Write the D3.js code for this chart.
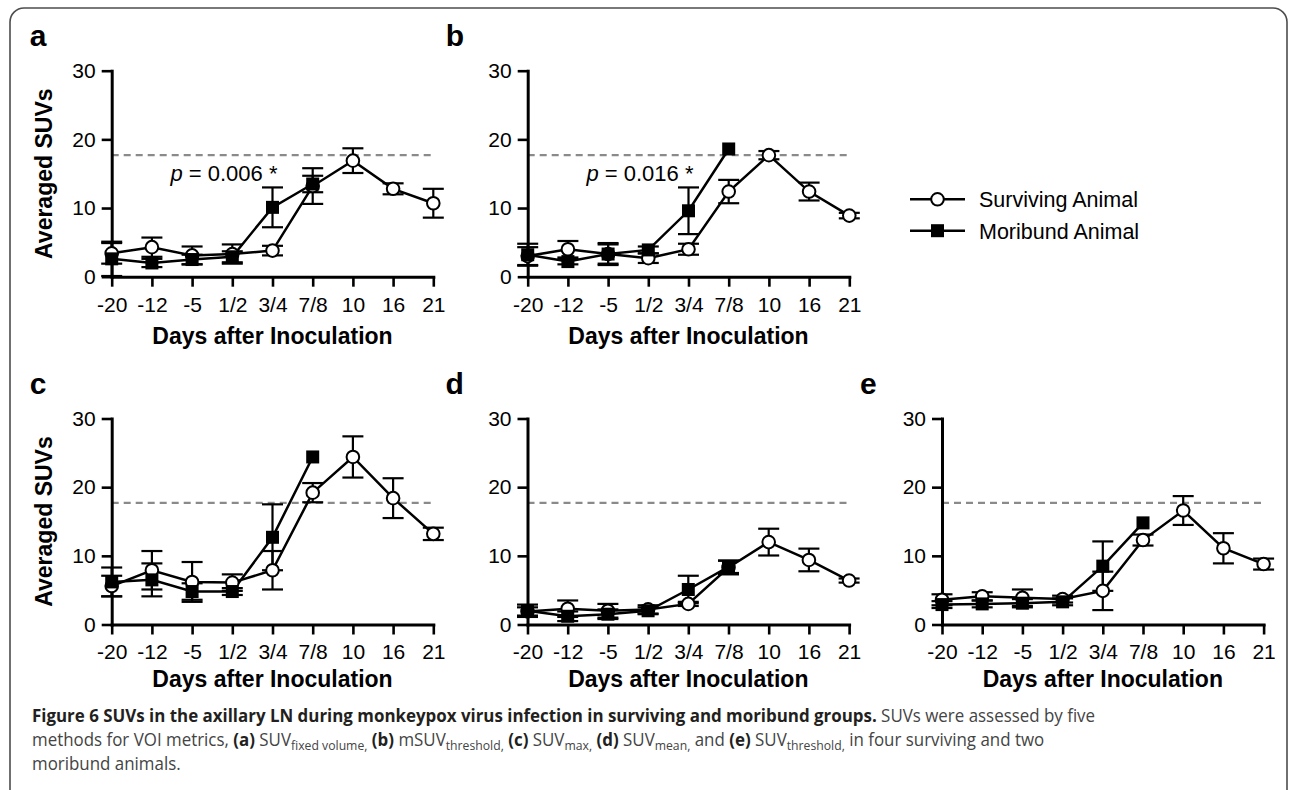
<!DOCTYPE html>
<html>
<head>
<meta charset="utf-8">
<script src="https://cdnjs.cloudflare.com/ajax/libs/d3/7.8.5/d3.min.js"></script>
<style>
    body { margin: 0; background: #fff; }
    svg { display: block; }
    .chartText { font-family: "Liberation Sans", Arial, sans-serif; fill: #000; }
</style>
</head>
<body>
<svg id="figure" width="1290" height="790"></svg>
<script>
"use strict";

// Categories on the x axis (days after inoculation).
const DAYS = ["-20", "-12", "-5", "1/2", "3/4", "7/8", "10", "16", "21"];
const Y_TICKS = [0, 10, 20, 30];
const THRESHOLD = 17.7;

// (a) SUV fixed volume
const A_SURVIVING = [3.4, 4.3, 3.1, 3.3, 3.8, 13.2, 16.9, 12.8, 10.7];
const A_SURVIVING_ERR = [1.5, 1.4, 1.3, 1.4, 0.7, 2.6, 1.8, 0.8, 2.1];
const A_MORIBUND = [2.6, 2.0, 2.5, 2.9, 10.1, 13.5];
const A_MORIBUND_ERR = [2.5, 0.6, 0.7, 0.8, 2.9, 1.2];

// (b) mSUV threshold
const B_SURVIVING = [3.0, 4.0, 3.3, 2.7, 4.0, 12.4, 17.7, 12.4, 8.9];
const B_SURVIVING_ERR = [1.3, 1.2, 1.6, 0.7, 0.8, 1.7, 0.6, 1.3, 0.4];
const B_MORIBUND = [3.2, 2.2, 3.3, 3.9, 9.6, 18.6];
const B_MORIBUND_ERR = [1.6, 0.4, 1.4, 0.5, 3.4, 0];

// (c) SUV max
const C_SURVIVING = [5.6, 7.9, 6.2, 6.1, 7.9, 19.2, 24.4, 18.4, 13.2];
const C_SURVIVING_ERR = [1.5, 2.8, 2.9, 1.2, 2.8, 1.4, 3.0, 2.9, 0.9];
const C_MORIBUND = [6.2, 6.5, 4.8, 4.8, 12.7, 24.4];
const C_MORIBUND_ERR = [2.1, 2.4, 1.2, 0.5, 4.8, 0];

// (d) SUV mean
const D_SURVIVING = [1.9, 2.3, 2.0, 2.2, 3.0, 8.3, 12.0, 9.4, 6.4];
const D_SURVIVING_ERR = [0.6, 1.2, 1.0, 0.6, 0.3, 1.0, 1.95, 1.65, 0.3];
const D_MORIBUND = [2.0, 1.2, 1.5, 2.0, 5.1, 8.4];
const D_MORIBUND_ERR = [0.9, 0.7, 0.7, 0.5, 2.0, 0.9];

// (e) SUV threshold
const E_SURVIVING = [3.6, 4.1, 3.9, 3.7, 4.9, 12.3, 16.6, 11.1, 8.8];
const E_SURVIVING_ERR = [0.8, 0.6, 1.2, 0.5, 2.8, 0.8, 2.1, 2.2, 0.8];
const E_MORIBUND = [2.9, 3.0, 3.1, 3.3, 8.5, 14.8];
const E_MORIBUND_ERR = [0.5, 0.5, 0.6, 0.5, 3.6, 0];

const LEGEND_LABELS = ["Surviving Animal", "Moribund Animal"];

const PANEL_WIDTH = 321.6;
const PANEL_HEIGHT = 206;
const CAP_HALF = 10.5;
const CIRCLE_R = 6.3;
const SQUARE = 13;

let svg = d3.select("#figure");

// Frame around the whole figure.
svg.append("rect")
    .attr("x", 10).attr("y", 8)
    .attr("width", 1277).attr("height", 800)
    .attr("rx", 14)
    .attr("fill", "none")
    .attr("stroke", "#4d4d4d")
    .attr("stroke-width", 1.6);

let panels = [
    {letter: "a", left: 111.7, bottom: 276.7, yLabel: true, p: "0.006", titleGap: 67,
        surv: A_SURVIVING, survErr: A_SURVIVING_ERR, mori: A_MORIBUND, moriErr: A_MORIBUND_ERR},
    {letter: "b", left: 527.7, bottom: 276.7, yLabel: false, p: "0.016", titleGap: 67,
        surv: B_SURVIVING, survErr: B_SURVIVING_ERR, mori: B_MORIBUND, moriErr: B_MORIBUND_ERR},
    {letter: "c", left: 111.7, bottom: 624.5, yLabel: true, p: null, titleGap: 62,
        surv: C_SURVIVING, survErr: C_SURVIVING_ERR, mori: C_MORIBUND, moriErr: C_MORIBUND_ERR},
    {letter: "d", left: 527.5, bottom: 624.5, yLabel: false, p: null, titleGap: 62,
        surv: D_SURVIVING, survErr: D_SURVIVING_ERR, mori: D_MORIBUND, moriErr: D_MORIBUND_ERR},
    {letter: "e", left: 942, bottom: 624.5, yLabel: false, p: null, titleGap: 62,
        surv: E_SURVIVING, survErr: E_SURVIVING_ERR, mori: E_MORIBUND, moriErr: E_MORIBUND_ERR}
];

/**
 * Draws one small panel with its axes, threshold line and both series.
 */
function drawPanel(p) {
    let g = svg.append("g").attr("class", "panel chartText");
    let x = d3.scalePoint().domain(DAYS).range([p.left, p.left + PANEL_WIDTH]);
    let y = d3.scaleLinear().domain([0, 30]).range([p.bottom, p.bottom - PANEL_HEIGHT]);

    // Panel letter.
    g.append("text")
        .attr("x", p.left - 82)
        .attr("y", y(30) - 25)
        .style("font-size", "30px")
        .style("font-weight", "bold")
        .text(p.letter);
    // Dashed threshold line.
    g.append("line")
        .attr("x1", p.left).attr("x2", p.left + PANEL_WIDTH)
        .attr("y1", y(THRESHOLD)).attr("y2", y(THRESHOLD))
        .attr("stroke", "#8a8a8a")
        .attr("stroke-width", 2.2)
        .attr("stroke-dasharray", "7,5");

    // Axes.
    let xAxis = g.append("g")
        .attr("transform", "translate(0," + y(0) + ")")
        .call(d3.axisBottom(x).tickSize(10).tickSizeOuter(0).tickPadding(10));
    let yAxis = g.append("g")
        .attr("transform", "translate(" + p.left + ",0)")
        .call(d3.axisLeft(y).tickValues(Y_TICKS).tickSize(10).tickSizeOuter(0).tickPadding(6));
    [xAxis, yAxis].forEach(function (axis) {
        axis.select(".domain").attr("stroke", "#000").attr("stroke-width", 3).attr("stroke-linecap", "square");
        axis.selectAll(".tick line").attr("stroke", "#000").attr("stroke-width", 2.6);
        axis.selectAll(".tick text")
            .attr("fill", "#000")
            .style("font-family", "Liberation Sans, Arial, sans-serif")
            .style("font-size", "21px");
    });

    g.append("text")
        .attr("x", p.left + PANEL_WIDTH / 2)
        .attr("y", y(0) + p.titleGap)
        .attr("text-anchor", "middle")
        .style("font-size", "23px")
        .style("font-weight", "bold")
        .text("Days after Inoculation");
    if (p.yLabel) {
        g.append("text")
            .attr("transform", "translate(" + (p.left - 60) + "," + (y(15)) + ") rotate(-90)")
            .attr("text-anchor", "middle")
            .style("font-size", "23px")
            .style("font-weight", "bold")
            .text("Averaged SUVs");
    }
    if (p.p !== null) {
        let t = g.append("text")
            .attr("x", x("3/4") + 5)
            .attr("y", y(13.9))
            .attr("text-anchor", "end")
            .style("font-size", "22px")
            .style("white-space", "pre");
        t.append("tspan").style("font-style", "italic").text("p");
        t.append("tspan").text(" = " + p.p + " *");
    }

    let series = [
        {values: p.surv, err: p.survErr, type: "circle"},
        {values: p.mori, err: p.moriErr, type: "square"}
    ];

    // Error bars first so the markers cover them.
    series.forEach(function (s) {
        s.values.forEach(function (v, i) {
            let e = s.err[i];
            if (!e) {
                return;
            }
            let cx = x(DAYS[i]);
            let bar = g.append("g")
                .attr("stroke", "#000")
                .attr("stroke-width", 2.2);
            bar.append("line").attr("x1", cx).attr("x2", cx).attr("y1", y(v - e)).attr("y2", y(v + e));
            bar.append("line").attr("x1", cx - CAP_HALF).attr("x2", cx + CAP_HALF).attr("y1", y(v + e)).attr("y2", y(v + e));
            bar.append("line").attr("x1", cx - CAP_HALF).attr("x2", cx + CAP_HALF).attr("y1", y(v - e)).attr("y2", y(v - e));
        });
    });

    let line = d3.line()
        .x(function (d, i) { return x(DAYS[i]); })
        .y(function (d) { return y(d); });
    series.forEach(function (s) {
        g.append("path")
            .attr("d", line(s.values))
            .attr("fill", "none")
            .attr("stroke", "#000")
            .attr("stroke-width", 2.5);
    });

    series.forEach(function (s) {
        s.values.forEach(function (v, i) {
            drawMarker(g, s.type, x(DAYS[i]), y(v));
        });
    });
}

function drawMarker(g, type, cx, cy) {
    if (type === "circle") {
        g.append("circle")
            .attr("cx", cx).attr("cy", cy).attr("r", CIRCLE_R)
            .attr("fill", "#fff").attr("stroke", "#000").attr("stroke-width", 2);
    } else {
        g.append("rect")
            .attr("x", cx - SQUARE / 2).attr("y", cy - SQUARE / 2)
            .attr("width", SQUARE).attr("height", SQUARE)
            .attr("fill", "#000");
    }
}

panels.forEach(drawPanel);

// Legend.
let legend = svg.append("g").attr("class", "chartText");
LEGEND_LABELS.forEach(function (label, i) {
    let ly = 199.3 + i * 31.4;
    legend.append("line")
        .attr("x1", 910).attr("x2", 965).attr("y1", ly).attr("y2", ly)
        .attr("stroke", "#000").attr("stroke-width", 2.5);
    drawMarker(legend, i === 0 ? "circle" : "square", 937.5, ly);
    legend.append("text")
        .attr("x", 979).attr("y", ly + 7.8)
        .style("font-size", "21.5px")
        .text(label);
});

// Caption, three lines of rich text.
const CAPTION_LINES = [
    [{t: "Figure 6 SUVs in the axillary LN during monkeypox virus infection in surviving and moribund groups.", b: true},
        {t: " SUVs were assessed by five"}],
    [{t: "methods for VOI metrics, "}, {t: "(a)", b: true}, {t: " SUV"}, {t: "fixed volume,", sub: true},
        {t: " "}, {t: "(b)", b: true}, {t: " mSUV"}, {t: "threshold,", sub: true},
        {t: " "}, {t: "(c)", b: true}, {t: " SUV"}, {t: "max,", sub: true},
        {t: " "}, {t: "(d)", b: true}, {t: " SUV"}, {t: "mean,", sub: true},
        {t: " and "}, {t: "(e)", b: true}, {t: " SUV"}, {t: "threshold,", sub: true},
        {t: " in four surviving and two"}],
    [{t: "moribund animals."}]
];
const CAPTION_BASELINES = [722, 746, 770];

let captionTexts = CAPTION_LINES.map(function (parts, li) {
    let text = svg.append("text")
        .attr("x", 0).attr("y", 0)
        .style("font-family", "'Open Sans', 'Noto Sans', sans-serif")
        .style("font-size", "18px")
        .style("white-space", "pre")
        .attr("fill", "#444");
    let shifted = false;
    parts.forEach(function (part) {
        let span = text.append("tspan").text(part.t);
        if (part.b) {
            span.style("font-weight", "bold").attr("fill", "#231f20");
        }
        if (part.sub && !shifted) {
            span.attr("dy", 4).style("font-size", "13px");
            shifted = true;
        } else if (!part.sub && shifted) {
            span.attr("dy", -4);
            shifted = false;
        }
    });
    return text;
});
// The original caption face is condensed: squeeze the lines to the measured width.
let captionScale = 1064 / captionTexts[0].node().getComputedTextLength();
captionTexts.forEach(function (text, i) {
    text.attr("transform", "translate(32," + CAPTION_BASELINES[i] + ") scale(" + captionScale + ",1)");
});
</script>
</body>
</html>
